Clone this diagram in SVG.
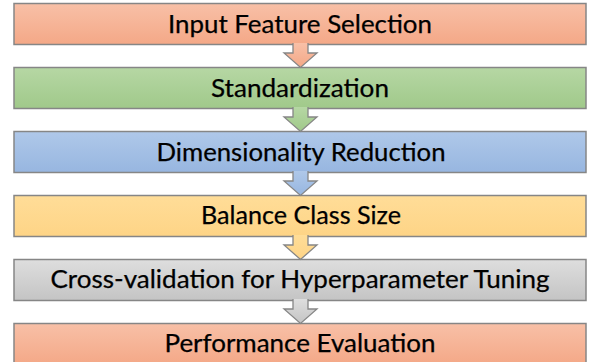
<svg xmlns="http://www.w3.org/2000/svg" width="589" height="362" viewBox="0 0 589 362">
<defs>
<linearGradient id="gOrange" x1="0" y1="0" x2="0" y2="1"><stop offset="0" stop-color="#f8c0a7"/><stop offset="1" stop-color="#f4a887"/></linearGradient>
<linearGradient id="gGreen" x1="0" y1="0" x2="0" y2="1"><stop offset="0" stop-color="#b6d7a4"/><stop offset="1" stop-color="#a0c98a"/></linearGradient>
<linearGradient id="gBlue" x1="0" y1="0" x2="0" y2="1"><stop offset="0" stop-color="#afc8e9"/><stop offset="1" stop-color="#97b6e0"/></linearGradient>
<linearGradient id="gYellow" x1="0" y1="0" x2="0" y2="1"><stop offset="0" stop-color="#ffdd98"/><stop offset="1" stop-color="#fed486"/></linearGradient>
<linearGradient id="gGray" x1="0" y1="0" x2="0" y2="1"><stop offset="0" stop-color="#dedede"/><stop offset="1" stop-color="#c4c4c4"/></linearGradient>
</defs>
<style>
.box{stroke:#868686;stroke-width:1.5}
.lbl{font-family:Lato,"Liberation Sans",sans-serif;font-size:24.5px;fill:#000;text-anchor:middle;stroke:#000;stroke-width:0.25}
.arr{stroke:#868686;stroke-width:1.3;stroke-linejoin:miter}
</style>
<g id="node-input">
<rect class="box" x="14" y="3.5" width="572" height="41" fill="url(#gOrange)"/>
<text class="lbl" x="300" y="33" textLength="264" lengthAdjust="spacingAndGlyphs">Input Feature Selection</text>
</g>
<g id="node-standardization">
<rect class="box" x="14" y="67.5" width="572" height="41" fill="url(#gGreen)"/>
<text class="lbl" x="300" y="97" textLength="178" lengthAdjust="spacingAndGlyphs">Standardization</text>
</g>
<g id="node-dimred">
<rect class="box" x="14" y="131.5" width="572" height="41" fill="url(#gBlue)"/>
<text class="lbl" x="301" y="160.5" textLength="289" lengthAdjust="spacingAndGlyphs">Dimensionality Reduction</text>
</g>
<g id="node-balance">
<rect class="box" x="14" y="195.5" width="572" height="41" fill="url(#gYellow)"/>
<text class="lbl" x="301" y="224" textLength="200" lengthAdjust="spacingAndGlyphs">Balance Class Size</text>
</g>
<g id="node-cv">
<rect class="box" x="14" y="259.5" width="572" height="41" fill="url(#gGray)"/>
<text class="lbl" x="300" y="288" textLength="499" lengthAdjust="spacingAndGlyphs">Cross-validation for Hyperparameter Tuning</text>
</g>
<g id="node-perf">
<rect class="box" x="14" y="323.5" width="572" height="41" fill="url(#gOrange)"/>
<text class="lbl" x="300" y="352" textLength="271" lengthAdjust="spacingAndGlyphs">Performance Evaluation</text>
</g>
<g id="connectors">
<path class="arr" fill="url(#gOrange)" d="M293 43 V53 H284 L300.5 67.5 L317 53 H308 V43"/>
<path class="arr" fill="url(#gGreen)" d="M293 107 V117 H284 L300.5 131.5 L317 117 H308 V107"/>
<path class="arr" fill="url(#gBlue)" d="M293 171 V181 H284 L300.5 195.5 L317 181 H308 V171"/>
<path class="arr" fill="url(#gYellow)" d="M293 235 V245 H284 L300.5 259.5 L317 245 H308 V235"/>
<path class="arr" fill="url(#gGray)" d="M293 299 V309 H284 L300.5 323.5 L317 309 H308 V299"/>
</g>
</svg>
